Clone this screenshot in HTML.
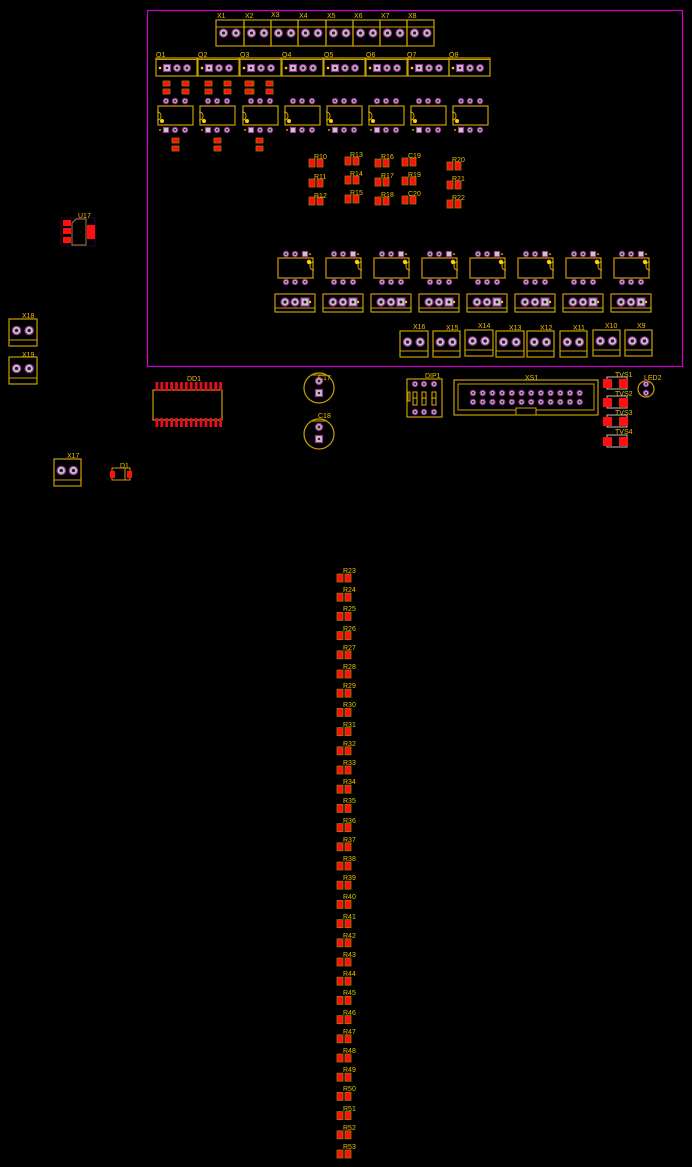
<!DOCTYPE html>
<html><head><meta charset="utf-8"><style>
html,body{margin:0;padding:0;background:#000;width:692px;height:1167px;overflow:hidden}
svg{display:block}
text{font-family:"Liberation Sans",sans-serif;font-size:7px;fill:#e8c000}
</style></head><body>
<svg id="s" width="692" height="1167" viewBox="0 0 692 1167">
<rect x="0" y="0" width="692" height="1167" fill="#000"/>
<rect x="147.5" y="10.5" width="535" height="356" fill="none" stroke="#d000d0" stroke-width="1.2"/>
<g id="g"></g>
<g id="t">
<text x="217" y="18">X1</text><text x="245" y="18">X2</text><text x="271" y="17">X3</text><text x="299" y="18">X4</text><text x="327" y="18">X5</text><text x="354" y="18">X6</text><text x="381" y="18">X7</text><text x="408" y="18">X8</text>
<text x="156" y="57">Q1</text><text x="198" y="57">Q2</text><text x="240" y="57">Q3</text><text x="282" y="57">Q4</text><text x="324" y="57">Q5</text><text x="366" y="57">Q6</text><text x="407" y="57">Q7</text><text x="449" y="57">Q8</text>
<text x="314" y="159">R10</text><text x="314" y="179">R11</text><text x="314" y="198">R12</text>
<text x="350" y="157">R13</text><text x="350" y="176">R14</text><text x="350" y="195">R15</text>
<text x="381" y="159">R16</text><text x="381" y="178">R17</text><text x="381" y="197">R18</text>
<text x="408" y="158">C19</text><text x="408" y="177">R19</text><text x="408" y="196">C20</text>
<text x="452" y="162">R20</text><text x="452" y="181">R21</text><text x="452" y="200">R22</text>
<text x="413" y="329">X16</text><text x="446" y="330">X15</text><text x="478" y="328">X14</text><text x="509" y="330">X13</text><text x="540" y="330">X12</text><text x="573" y="330">X11</text><text x="605" y="328">X10</text><text x="637" y="328">X9</text>
<text x="78" y="218">U17</text><text x="22" y="318">X18</text><text x="22" y="357">X19</text><text x="67" y="458">X17</text><text x="120" y="468">D1</text>
<text x="187" y="381">DD1</text><text x="318" y="380">C17</text><text x="318" y="418">C18</text><text x="425" y="378">DIP1</text><text x="525" y="380">XS1</text>
<text x="615" y="377">TVS1</text><text x="615" y="396">TVS2</text><text x="615" y="415">TVS3</text><text x="615" y="434">TVS4</text><text x="644" y="380">LED2</text>
<text x="343" y="573">R23</text><text x="343" y="592">R24</text><text x="343" y="611">R25</text><text x="343" y="631">R26</text><text x="343" y="650">R27</text><text x="343" y="669">R28</text><text x="343" y="688">R29</text><text x="343" y="707">R30</text><text x="343" y="727">R31</text><text x="343" y="746">R32</text><text x="343" y="765">R33</text><text x="343" y="784">R34</text><text x="343" y="803">R35</text><text x="343" y="823">R36</text><text x="343" y="842">R37</text><text x="343" y="861">R38</text><text x="343" y="880">R39</text><text x="343" y="899">R40</text><text x="343" y="919">R41</text><text x="343" y="938">R42</text><text x="343" y="957">R43</text><text x="343" y="976">R44</text><text x="343" y="995">R45</text><text x="343" y="1015">R46</text><text x="343" y="1034">R47</text><text x="343" y="1053">R48</text><text x="343" y="1072">R49</text><text x="343" y="1091">R50</text><text x="343" y="1111">R51</text><text x="343" y="1130">R52</text><text x="343" y="1149">R53</text>
</g>
</svg>
<script>
var g=document.getElementById('g'),h='';
var Y='#c9a000',R='#ff1010';
function rect(x,y,w,hh,st,fill,sw){h+='<rect x="'+x+'" y="'+y+'" width="'+w+'" height="'+hh+'" fill="'+(fill||'none')+'" stroke="'+(st||'none')+'" stroke-width="'+(sw||1)+'"/>';}
function line(x1,y1,x2,y2,c,w){h+='<line x1="'+x1+'" y1="'+y1+'" x2="'+x2+'" y2="'+y2+'" stroke="'+(c||Y)+'" stroke-width="'+(w||1)+'"/>';}
function circ(x,y,r,st,fill,sw){h+='<circle cx="'+x+'" cy="'+y+'" r="'+r+'" fill="'+(fill||'none')+'" stroke="'+(st||'none')+'" stroke-width="'+(sw||1)+'"/>';}
function pad(x,y,r){r=r||3.6;circ(x,y,r,'#a030a0','#c8c8c8',1.2);circ(x,y,r*0.42,null,'#222');}
function sq(x,y,s){s=s||7;rect(x-s/2,y-s/2,s,s,'#a030a0','#c8c8c8',1.2);circ(x,y,s*0.18,null,'#222');}
function small(x,y){circ(x,y,2.6,'#a030a0','#b8b8b8',1.2);circ(x,y,1,null,'#222');}
function ssq(x,y){rect(x-2.6,y-2.6,5.2,5.2,'#a030a0','#c8c8c8',1);}
function res(x,y){rect(x,y,6,8,'#a07800',R,0.8);rect(x+8,y,6,8,'#a07800',R,0.8);}
function resv(x,y){rect(x,y,7,5,'#a07800',R,0.8);rect(x,y+8,7,5,'#a07800',R,0.8);}
function term(x,y,w,hh){rect(x,y,w,hh,Y,null,1.2);line(x,y+hh-6,x+w,y+hh-6);pad(x+w*0.27,y+(hh-6)/2+1,4.2);pad(x+w*0.72,y+(hh-6)/2+1,4.2);}
var xs=[216,244,271,298,326,353,380,407,434];
for(var i=0;i<8;i++){rect(xs[i],20,xs[i+1]-xs[i],26,Y,null,1.2);line(xs[i],27,xs[i+1],27);pad(xs[i]+7.5,33,4);pad(xs[i]+20,33,4);}
var qx=[156,198,240,282,324,366,408,449];
for(i=0;i<8;i++){var x=qx[i];rect(x,58,41,18,Y,null,1.2);line(x,59.5,x+41,59.5);circ(x+4,68,1.3,null,'#ffd000');sq(x+11,68,7);pad(x+21,68,3.4);pad(x+31,68,3.4);}
var rq=[163,205,247];
for(i=0;i<3;i++){resv(rq[i],81);resv(rq[i]+19,81);}
resv(205+40,81);
for(i=0;i<3;i++){resv(172+i*42,138);}
var ux=[158,200,243,285,327,369,411,453];
for(i=0;i<8;i++){var x=ux[i];rect(x,106,35,19,Y,null,1.2);h+='<path d="M'+(x-1)+' 112 q4 0 4 4 q0 4 -4 4" fill="none" stroke="'+Y+'"/>';circ(x+4,121,2,null,'#ffd000');small(x+8,101);small(x+17,101);small(x+27,101);ssq(x+8,130);small(x+17,130);small(x+27,130);circ(x+2,130,0.9,null,'#ffd000');}
[[309,159],[309,179],[309,197],[345,157],[345,176],[345,195],[375,159],[375,178],[375,197],[402,158],[402,177],[402,196],[447,162],[447,181],[447,200]].forEach(function(p){res(p[0],p[1]);});
for(i=0;i<8;i++){var x=278+i*48;rect(x,258,35,20,Y,null,1.2);h+='<path d="M'+(x+36)+' 262 q-4 0 -4 4 q0 4 4 4" fill="none" stroke="'+Y+'"/>';circ(x+31,262,2.2,null,'#ffd000');small(x+8,254);small(x+17,254);ssq(x+27,254);circ(x+32,254,0.9,null,'#ffd000');small(x+8,282);small(x+17,282);small(x+27,282);}
for(i=0;i<8;i++){var x=275+i*48;rect(x,294,40,18,Y,null,1.2);line(x,308,x+40,308);pad(x+10,302,4);pad(x+20,302,4);sq(x+30,302,8);circ(x+35,302,1.2,null,'#ffd000');}
[[400,28],[433,27],[465,28],[496,28],[527,27],[560,27],[593,27],[625,27]].forEach(function(p,k){var yy=(k==2||k==6||k==7)?330:331;term(p[0],yy,p[1],26);});
rect(61,218,34,28,'#300030',null,1);rect(63,220,8,6,null,R);rect(63,228,8,6,null,R);rect(63,237,8,6,null,R);rect(87,225,8,14,null,R);h+='<path d="M72 245 V223 L76 219 H86 V245 Z" fill="none" stroke="#a08040"/>';
term(9,319,28,27);term(9,357,28,27);term(54,459,27,27);
rect(112,468,18,12,Y,null,1);line(125,468,125,480);rect(110,471,5,7,null,R);rect(127,471,5,7,null,R);
rect(153,390,69,30,Y,null,1.2);
for(i=0;i<14;i++){var x=155.5+i*4.9;rect(x,382,2.8,9,null,'#e01020');rect(x,418,2.8,9,null,'#e01020');}
[388,434].forEach(function(cy){circ(319,cy,15,Y,null,1.2);line(311,cy-13,327,cy-13);pad(319,cy-7,3.5);sq(319,cy+5,7);});
rect(407,379,35,38,Y,null,1.2);small(415,384);small(424,384);small(434,384);small(415,412);small(424,412);small(434,412);
[415,424,434].forEach(function(x){rect(x-2,392,4,13,'#e0b000',null,1);line(x-2,398,x+2,398,'#e0b000');});
rect(408,392,2,9,Y,null,1);
rect(454,380,144,35,Y,null,1.2);rect(458,384,136,26,Y,null,1);rect(516,408,20,7,Y,'#000',1);
for(i=0;i<12;i++){small(473+i*9.7,393);small(473+i*9.7,402);}
[383,402,421,441].forEach(function(y){rect(607,y-6,20,12,'#c0c0c0',null,1);rect(603,y-4,9,9,null,R);rect(619,y-4,9,9,null,R);});
circ(646,389,8,Y,null,1.2);small(646,384);small(646,393);
for(i=0;i<31;i++){res(337,574+i*19.2);}
g.innerHTML=h;
</script>
</body></html>
